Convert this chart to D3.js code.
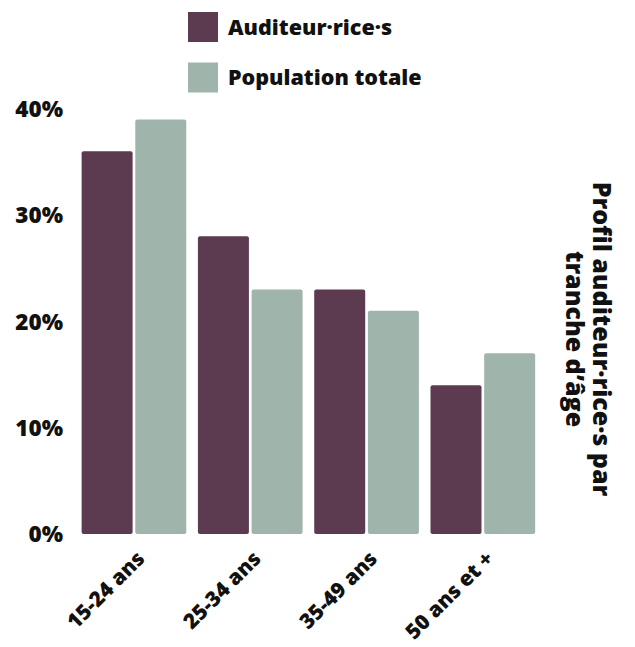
<!DOCTYPE html>
<html>
<head>
<meta charset="utf-8">
<script src="https://cdn.jsdelivr.net/npm/d3@7"></script>
<style>
  html, body { margin: 0; padding: 0; background: #fff; }
  svg { display: block; font-family: "Open Sans", "Noto Sans", sans-serif; font-weight: 800; }
</style>
</head>
<body>
<div id="chart"></div>
<script>
const categories = ['15-24 ans', '25-34 ans', '35-49 ans', '50 ans et +'];
const seriesKeys = ['auditeurs', 'population'];
const seriesLabels = ['Auditeur·rice·s', 'Population totale'];
const auditeurs = [36, 28, 23, 14];
const population = [39, 23, 21, 17];
const yTicks = [0, 10, 20, 30, 40];
const titleLines = ['Profil auditeur·rice·s par', 'tranche d’âge'];

const colors = { auditeurs: '#5c3a50', population: '#9fb4ab' };
const width = 635, height = 647;
const base = 534;

const rows = categories.map((c, i) => ({ cat: c, auditeurs: auditeurs[i], population: population[i] }));

const svg = d3.select('#chart').append('svg')
  .attr('width', width).attr('height', height);

const x0 = d3.scaleBand().domain(categories).range([75.8, 541]).paddingInner(0.1).paddingOuter(0.05);
const x1 = d3.scaleBand().domain(seriesKeys).range([0, x0.bandwidth()]).paddingInner(0.05);
const y = d3.scaleLinear().domain([0, 40]).range([base, base - 40 * 10.63]);

// y axis labels
const yAxis = d3.axisLeft(y).tickValues(yTicks).tickSize(0).tickPadding(0).tickFormat(d => `${d}%`);
const gy = svg.append('g').attr('transform', 'translate(63,0)').call(yAxis);
gy.select('.domain').remove();
gy.selectAll('.tick text')
  .attr('font-family', '"Open Sans", sans-serif').attr('font-weight', 800)
  .attr('font-size', 22.5).attr('fill', '#111').attr('dy', '0.35em').attr('dx', 0);

// bars
const groups = svg.append('g').selectAll('g').data(rows).join('g')
  .attr('transform', d => `translate(${x0(d.cat)},0)`);
groups.selectAll('rect')
  .data(d => seriesKeys.map(k => ({ key: k, value: d[k] })))
  .join('rect')
  .attr('x', d => x1(d.key))
  .attr('y', d => y(d.value))
  .attr('width', x1.bandwidth())
  .attr('height', d => base - y(d.value))
  .attr('rx', 2)
  .attr('fill', d => colors[d.key]);

// x labels, rotated
const xAxis = d3.axisBottom(x0).tickSize(0).tickPadding(0);
const gx = svg.append('g').attr('transform', `translate(0,${base})`).call(xAxis);
gx.select('.domain').remove();
gx.selectAll('.tick text')
  .attr('font-family', '"Open Sans", sans-serif').attr('font-weight', 800)
  .attr('font-size', 21).attr('fill', '#111')
  .attr('text-anchor', 'end').attr('dy', 0)
  .attr('transform', 'translate(12,26) rotate(-45)')
  .attr('y', 0).attr('x', 0);

// legend
const legend = svg.append('g');
seriesKeys.forEach((k, i) => {
  const g = legend.append('g').attr('transform', `translate(188,${12 + i * 50.5})`);
  g.append('rect').attr('width', 30).attr('height', 30).attr('fill', colors[k]);
  g.append('text').attr('x', 40).attr('y', 15).attr('dy', '0.35em')
    .attr('font-size', 21.5).attr('fill', '#111').text(seriesLabels[i]);
});

// right-side title
const title = svg.append('text')
  .attr('transform', 'translate(602,339) rotate(90)')
  .attr('text-anchor', 'middle').attr('font-size', 25).attr('fill', '#111');
titleLines.forEach((t, i) => {
  title.append('tspan').attr('x', 0).attr('y', i * 27).attr('dy', '0.35em').text(t);
});
</script>
</body>
</html>
